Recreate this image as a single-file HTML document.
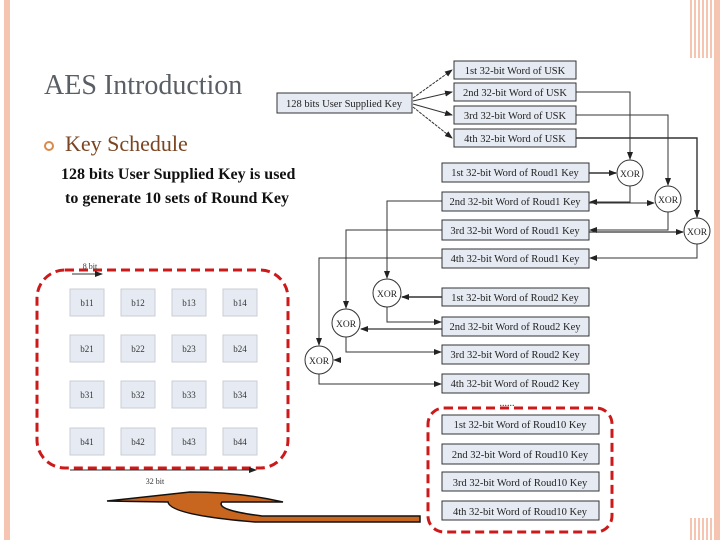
<!DOCTYPE html>
<html><head><meta charset="utf-8"><style>
body{margin:0;width:720px;height:540px;overflow:hidden;background:#fff;position:relative;font-family:"Liberation Serif",serif}
.t{position:absolute;white-space:nowrap}
</style></head><body>
<div style="position:absolute;left:4px;top:0;width:6px;height:540px;background:#f5c5b2"></div>
<div style="position:absolute;left:688px;top:0;width:32px;height:540px;background:repeating-linear-gradient(90deg,#fff 0 2px,#f5c5b2 2px 4px,#fff 4px 6px,#f5c5b2 6px 8px)"></div>
<div style="position:absolute;left:714px;top:0;width:6px;height:540px;background:#f5c5b2"></div>
<div style="position:absolute;left:270px;top:58px;width:444px;height:460px;background:#fff"></div>
<div class="t" style="left:44px;top:70px;font-size:28px;color:#5a5f66">AES Introduction</div>
<div style="position:absolute;left:44px;top:141px;width:6px;height:6px;border:2px solid #d98a4a;border-radius:50%"></div>
<div class="t" style="left:65px;top:131px;font-size:22px;color:#7a4520">Key Schedule</div>
<div class="t" style="left:61px;top:166px;font-size:16px;font-weight:bold;color:#111">128 bits User Supplied Key is used</div>
<div class="t" style="left:65px;top:190px;font-size:16px;font-weight:bold;color:#111">to generate 10 sets of Round Key</div>
<svg width="720" height="540" style="position:absolute;left:0;top:0" font-family="Liberation Serif,serif">
<defs><marker id="a" markerWidth="8" markerHeight="6" refX="7" refY="3" orient="auto" markerUnits="userSpaceOnUse"><path d="M0,0L8,3L0,6z" fill="#222"/></marker></defs>
<g fill="#e6ebf3" stroke="#333" stroke-width="1">
<rect x="277" y="93" width="135" height="20"/>
<rect x="454" y="61" width="122" height="18"/><rect x="454" y="83" width="122" height="18"/><rect x="454" y="106" width="122" height="18"/><rect x="454" y="129" width="122" height="18"/>
<rect x="442" y="163" width="147" height="19"/><rect x="442" y="192" width="147" height="19"/><rect x="442" y="220" width="147" height="20"/><rect x="442" y="249" width="147" height="19"/>
<rect x="442" y="288" width="147" height="18"/><rect x="442" y="317" width="147" height="19"/><rect x="442" y="345" width="147" height="19"/><rect x="442" y="374" width="147" height="19"/>
<rect x="442" y="415" width="157" height="19"/><rect x="442" y="444" width="157" height="20"/><rect x="442" y="472" width="157" height="19"/><rect x="442" y="501" width="157" height="19"/>
</g>
<g font-size="10.5" fill="#222" text-anchor="middle">
<text x="344" y="107">128 bits User Supplied Key</text>
<text x="515" y="74">1st 32-bit Word of USK</text><text x="515" y="96">2nd 32-bit Word of USK</text><text x="515" y="119">3rd 32-bit Word of USK</text><text x="515" y="142">4th 32-bit Word of USK</text>
<text x="515" y="176">1st 32-bit Word of Roud1 Key</text><text x="515" y="205">2nd 32-bit Word of Roud1 Key</text><text x="515" y="234">3rd 32-bit Word of Roud1 Key</text><text x="515" y="262">4th 32-bit Word of Roud1 Key</text>
<text x="515" y="301">1st 32-bit Word of Roud2 Key</text><text x="515" y="330">2nd 32-bit Word of Roud2 Key</text><text x="515" y="358">3rd 32-bit Word of Roud2 Key</text><text x="515" y="387">4th 32-bit Word of Roud2 Key</text>
<text x="520" y="428">1st 32-bit Word of Roud10 Key</text><text x="520" y="458">2nd 32-bit Word of Roud10 Key</text><text x="520" y="486">3rd 32-bit Word of Roud10 Key</text><text x="520" y="515">4th 32-bit Word of Roud10 Key</text>
</g>
<g fill="#fff" stroke="#333"><circle cx="630" cy="173" r="13"/><circle cx="668" cy="199" r="13"/><circle cx="697" cy="231" r="13"/><circle cx="387" cy="293" r="14"/><circle cx="346" cy="323" r="14"/><circle cx="319" cy="360" r="14"/></g>
<g font-size="9.5" fill="#222" text-anchor="middle"><text x="630" y="177">XOR</text><text x="668" y="203">XOR</text><text x="697" y="235">XOR</text><text x="387" y="297">XOR</text><text x="346" y="327">XOR</text><text x="319" y="364">XOR</text></g>
<g stroke="#333" stroke-width="1" fill="none" marker-end="url(#a)">
<path d="M413,98L452,70" stroke-dasharray="3,1"/><path d="M413,101L452,92"/><path d="M413,104L452,115"/><path d="M413,107L452,138" stroke-dasharray="3,1"/>
<path d="M576,92H630V159"/><path d="M576,115H668V185"/><path d="M576,138H697V217" stroke-width="1.4"/>
<path d="M589,173H616" stroke-width="1.4"/><path d="M630,186V202H590"/><path d="M589,203H654"/><path d="M668,212V230H590"/><path d="M589,232H683" stroke-width="1.3"/><path d="M697,244V258H590"/>
<path d="M442,201H387V278"/><path d="M442,230H346V308"/><path d="M442,258H319V345"/>
<path d="M442,297H402" stroke-width="1.4"/><path d="M387,307V322H441"/><path d="M442,329H361" stroke-width="1.3"/><path d="M346,337V352H441"/><path d="M338,360H334"/><path d="M319,374V384H441"/>
</g>
<text x="507" y="406" font-size="10" text-anchor="middle" fill="#333">......</text>
<rect x="428" y="408" width="184" height="124" rx="16" fill="none" stroke="#cc1a1a" stroke-width="3" stroke-dasharray="9,5"/>
<rect x="37" y="270" width="251" height="198" rx="28" fill="none" stroke="#cc1a1a" stroke-width="3" stroke-dasharray="9,5"/>
<g fill="#e6ebf3" stroke="#c9ced6">
<rect x="70" y="289" width="34" height="27"/><rect x="121" y="289" width="34" height="27"/><rect x="172" y="289" width="34" height="27"/><rect x="223" y="289" width="34" height="27"/>
<rect x="70" y="335" width="34" height="27"/><rect x="121" y="335" width="34" height="27"/><rect x="172" y="335" width="34" height="27"/><rect x="223" y="335" width="34" height="27"/>
<rect x="70" y="381" width="34" height="27"/><rect x="121" y="381" width="34" height="27"/><rect x="172" y="381" width="34" height="27"/><rect x="223" y="381" width="34" height="27"/>
<rect x="70" y="428" width="34" height="27"/><rect x="121" y="428" width="34" height="27"/><rect x="172" y="428" width="34" height="27"/><rect x="223" y="428" width="34" height="27"/>
</g>
<g font-size="9" fill="#333" text-anchor="middle">
<text x="87" y="306">b11</text><text x="138" y="306">b12</text><text x="189" y="306">b13</text><text x="240" y="306">b14</text>
<text x="87" y="352">b21</text><text x="138" y="352">b22</text><text x="189" y="352">b23</text><text x="240" y="352">b24</text>
<text x="87" y="398">b31</text><text x="138" y="398">b32</text><text x="189" y="398">b33</text><text x="240" y="398">b34</text>
<text x="87" y="445">b41</text><text x="138" y="445">b42</text><text x="189" y="445">b43</text><text x="240" y="445">b44</text>
<text x="90" y="269" font-size="8">8 bit</text><text x="155" y="484" font-size="8">32 bit</text>
</g>
<path d="M72,274H102" stroke="#333" marker-end="url(#a)"/><path d="M70,470H256" stroke="#333" marker-end="url(#a)"/>
<path d="M107,501L190,492Q240,492 283,502L222,502Q215,510 262,516L420,516L420,522L255,522Q170,515 168,502Z" fill="#c8651e" stroke="#111" stroke-width="1.5"/>
</svg>
</body></html>
